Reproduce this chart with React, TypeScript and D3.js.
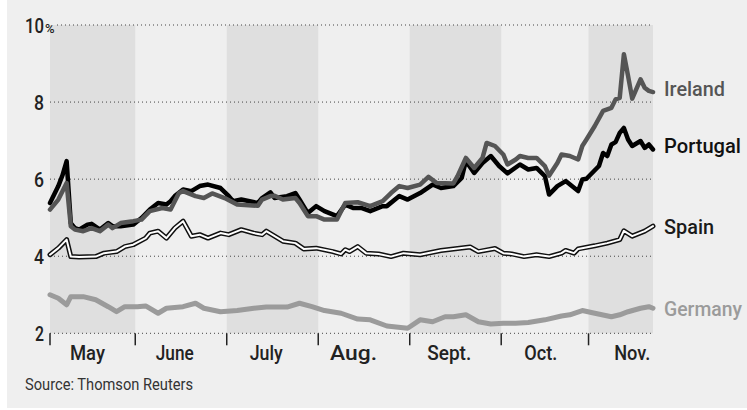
import React from "react";
import * as d3 from "d3";

// ---------- data (10-year government bond yields, %, 2010) ----------
const YEAR = 2010;
const monthNames = ["May", "June", "July", "Aug.", "Sept.", "Oct.", "Nov."];
const monthStarts = ["5/3", "6/1", "7/1", "8/2", "9/1", "10/1", "11/1"];
const monthLabelDates = ["5/14", "6/14", "7/14", "8/12", "9/14", "10/14", "11/15"];
const shadedMonths = [true, false, true, false, true, false, true];
const lastDate = "11/22";
const yTicks = [2, 4, 6, 8, 10];

const ireland: [string, number][] = [
  ["5/3", 5.21], ["5/5", 5.47], ["5/7", 5.9], ["5/10", 4.78], ["5/11", 4.69], ["5/13", 4.65],
  ["5/17", 4.73], ["5/19", 4.65], ["5/21", 4.82], ["5/24", 4.73], ["5/26", 4.86], ["5/31", 4.91],
  ["6/2", 4.95], ["6/4", 5.17], ["6/9", 5.25], ["6/11", 5.21], ["6/15", 5.64], ["6/16", 5.69],
  ["6/21", 5.56], ["6/23", 5.51], ["6/25", 5.63], ["6/30", 5.51], ["7/5", 5.34], ["7/12", 5.31],
  ["7/13", 5.47], ["7/15", 5.56], ["7/16", 5.57], ["7/20", 5.47], ["7/23", 5.51], ["7/26", 5.38],
  ["7/28", 5.04], ["7/30", 5.04], ["8/3", 4.95], ["8/6", 4.95], ["8/10", 5.38], ["8/13", 5.4],
  ["8/18", 5.3], ["8/23", 5.43], ["8/25", 5.64], ["8/27", 5.82], ["8/31", 5.77], ["9/3", 5.86],
  ["9/7", 6.06], ["9/9", 5.9], ["9/15", 5.89], ["9/16", 6.08], ["9/20", 6.55], ["9/22", 6.29],
  ["9/24", 6.55], ["9/27", 6.94], ["9/29", 6.86], ["10/1", 6.64], ["10/4", 6.38], ["10/6", 6.51],
  ["10/7", 6.6], ["10/11", 6.55], ["10/13", 6.55], ["10/15", 6.34], ["10/18", 6.09], ["10/20", 6.42],
  ["10/21", 6.64], ["10/25", 6.6], ["10/27", 6.51], ["10/28", 6.86], ["10/29", 7.03], ["11/2", 7.38],
  ["11/4", 7.77], ["11/8", 7.85], ["11/9", 8.07], ["11/10", 8.11], ["11/11", 9.24], ["11/12", 8.68],
  ["11/15", 8.09], ["11/17", 8.59], ["11/18", 8.37], ["11/19", 8.29], ["11/22", 8.26],
];

const portugal: [string, number][] = [
  ["5/3", 5.38], ["5/5", 5.82], ["5/6", 6.1], ["5/7", 6.47], ["5/10", 4.86], ["5/11", 4.73],
  ["5/12", 4.69], ["5/14", 4.82], ["5/17", 4.84], ["5/19", 4.69], ["5/21", 4.86], ["5/24", 4.78],
  ["5/26", 4.78], ["5/31", 4.82], ["6/2", 4.99], ["6/4", 5.21], ["6/8", 5.38], ["6/10", 5.34],
  ["6/11", 5.43], ["6/14", 5.56], ["6/16", 5.73], ["6/18", 5.69], ["6/22", 5.82], ["6/24", 5.86],
  ["6/29", 5.77], ["7/1", 5.56], ["7/2", 5.43], ["7/6", 5.47], ["7/12", 5.38], ["7/13", 5.51],
  ["7/15", 5.66], ["7/16", 5.51], ["7/21", 5.56], ["7/23", 5.64], ["7/26", 5.47], ["7/28", 5.12],
  ["7/30", 5.3], ["8/3", 5.17], ["8/6", 5.04], ["8/10", 5.34], ["8/12", 5.25], ["8/16", 5.25],
  ["8/18", 5.17], ["8/23", 5.3], ["8/24", 5.3], ["8/27", 5.56], ["8/31", 5.47], ["9/3", 5.64],
  ["9/8", 5.86], ["9/10", 5.77], ["9/15", 5.82], ["9/17", 6.03], ["9/20", 6.47], ["9/22", 6.16],
  ["9/24", 6.42], ["9/28", 6.6], ["9/30", 6.34], ["10/4", 6.15], ["10/7", 6.38], ["10/11", 6.25],
  ["10/13", 6.29], ["10/15", 6.08], ["10/18", 5.6], ["10/20", 5.82], ["10/22", 5.95], ["10/27", 5.69],
  ["10/28", 5.99], ["10/29", 6.01], ["11/3", 6.34], ["11/4", 6.68], ["11/5", 6.6], ["11/8", 6.9],
  ["11/9", 6.96], ["11/10", 7.2], ["11/11", 7.33], ["11/12", 7.03], ["11/15", 6.86], ["11/17", 6.99],
  ["11/18", 6.81], ["11/19", 6.9], ["11/22", 6.77],
];

const spain: [string, number][] = [
  ["5/3", 4.04], ["5/5", 4.21], ["5/7", 4.43], ["5/10", 3.99], ["5/12", 3.98], ["5/18", 3.99],
  ["5/20", 4.08], ["5/25", 4.12], ["5/27", 4.25], ["5/31", 4.3], ["6/3", 4.47], ["6/4", 4.6],
  ["6/8", 4.65], ["6/10", 4.47], ["6/14", 4.73], ["6/16", 4.91], ["6/18", 4.52], ["6/22", 4.56],
  ["6/24", 4.47], ["6/29", 4.6], ["7/1", 4.56], ["7/6", 4.69], ["7/9", 4.6], ["7/13", 4.56],
  ["7/14", 4.65], ["7/20", 4.39], ["7/23", 4.34], ["7/27", 4.19], ["7/30", 4.21], ["8/5", 4.12],
  ["8/9", 4.06], ["8/10", 4.17], ["8/11", 4.12], ["8/13", 4.25], ["8/17", 4.08], ["8/20", 4.06],
  ["8/25", 3.99], ["8/30", 4.08], ["9/3", 4.04], ["9/10", 4.15], ["9/15", 4.19], ["9/21", 4.24],
  ["9/23", 4.12], ["9/29", 4.2], ["10/1", 4.08], ["10/5", 4.06], ["10/8", 3.99], ["10/13", 4.04],
  ["10/18", 3.99], ["10/21", 4.08], ["10/22", 4.15], ["10/26", 4.08], ["10/27", 4.19], ["11/2", 4.27],
  ["11/5", 4.34], ["11/10", 4.43], ["11/11", 4.66], ["11/15", 4.52], ["11/18", 4.65], ["11/22", 4.78],
];

const germany: [string, number][] = [
  ["5/3", 3.0], ["5/5", 2.91], ["5/7", 2.74], ["5/10", 2.95], ["5/13", 2.95], ["5/18", 2.87],
  ["5/21", 2.69], ["5/25", 2.56], ["5/27", 2.69], ["6/1", 2.69], ["6/3", 2.71], ["6/8", 2.52],
  ["6/10", 2.65], ["6/16", 2.69], ["6/21", 2.78], ["6/23", 2.65], ["6/29", 2.56], ["7/5", 2.59],
  ["7/9", 2.65], ["7/14", 2.68], ["7/21", 2.68], ["7/26", 2.78], ["7/29", 2.69], ["8/3", 2.59],
  ["8/9", 2.52], ["8/13", 2.37], ["8/18", 2.35], ["8/24", 2.19], ["8/31", 2.13], ["9/3", 2.35],
  ["9/8", 2.3], ["9/13", 2.43], ["9/15", 2.43], ["9/20", 2.48], ["9/23", 2.3], ["9/28", 2.24],
  ["10/1", 2.26], ["10/6", 2.26], ["10/11", 2.28], ["10/15", 2.35], ["10/21", 2.45], ["10/25", 2.48],
  ["10/28", 2.59], ["11/2", 2.52], ["11/8", 2.43], ["11/10", 2.48], ["11/12", 2.56], ["11/17", 2.65],
  ["11/19", 2.69], ["11/22", 2.65],
];

// ---------- helpers ----------
const parse = (s: string) => {
  const [m, d] = s.split("/").map(Number);
  return new Date(YEAR, m - 1, d);
};
const origin = parse(monthStarts[0]);
const bday = (s: string) => {
  const date = parse(s);
  let n = 0;
  for (const t of d3.timeDay.range(origin, date)) {
    const w = t.getDay();
    if (w !== 0 && w !== 6) n++;
  }
  return n;
};

const FONT = "Roboto, 'Noto Sans', sans-serif";

// rendered widths of the condensed labels (styling, not data)
const textWidths: Record<string, number> = {
  Ireland: 61, Portugal: 77, Spain: 50, Germany: 78,
  May: 35, June: 38, July: 33, "Aug.": 47, "Sept.": 44, "Oct.": 33, "Nov.": 36,
  "Source: Thomson Reuters": 168, "8": 10, "6": 10, "4": 10, "2": 9,
};

const W = 747;
const H = 410;
const left = 50;
const right = 653;
const top = 25;
const bottom = 333.3;

function NText(props: {
  x: number; y: number; text: string; size: number; fill: string;
  anchor?: "start" | "middle" | "end"; weight?: number;
}) {
  const w = textWidths[props.text];
  return (
    <text
      x={props.x}
      y={props.y}
      fontSize={props.size}
      fill={props.fill}
      textAnchor={props.anchor || "start"}
      fontWeight={props.weight || 500}
      textLength={w}
      lengthAdjust="spacingAndGlyphs"
    >
      {props.text}
    </text>
  );
}

export default function App() {
  const x = d3.scaleLinear().domain([0, bday(lastDate)]).range([left, right]);
  const y = d3.scaleLinear().domain([2, 10]).range([bottom, top]);

  const bounds = monthStarts.map((s) => Math.max(x(0), x(bday(s) - 0.5)));
  const bandEnds = bounds.map((b, i) => (i < bounds.length - 1 ? bounds[i + 1] : x(bday(lastDate))));

  const line = d3
    .line<[string, number]>()
    .x((d) => x(bday(d[0])))
    .y((d) => y(d[1]));

  const series = [
    { name: "Germany", data: germany, color: "#9b9b9b", width: 5, label: "#9b9b9b", nudge: 8 },
    { name: "Spain", data: spain, color: "#111", width: 5, inner: "#fff", label: "#1a1a1a", nudge: 8 },
    { name: "Portugal", data: portugal, color: "#000", width: 4.5, label: "#111", nudge: 3.5 },
    { name: "Ireland", data: ireland, color: "#555", width: 4.5, label: "#555", nudge: 4 },
  ];

  const topTick = yTicks[yTicks.length - 1];

  return (
    <svg
      width={W}
      height={H}
      style={{ position: "absolute", left: 0, top: 0, display: "block" }}
      fontFamily={FONT}
    >
      <rect x={0} y={0} width={W} height={H} fill="#fff" />
      <rect x={7} y={0} width={W - 7} height={408} fill="#efefef" />

      {/* shaded months */}
      {bounds.map((b, i) =>
        shadedMonths[i] ? (
          <rect key={"band" + i} x={b} y={top} width={bandEnds[i] - b} height={bottom - top} fill="#dfdfdf" />
        ) : null
      )}

      {/* dotted gridlines */}
      {yTicks.map((t) => (
        <line
          key={"g" + t}
          x1={t === topTick ? 57 : left}
          x2={right}
          y1={y(t)}
          y2={y(t)}
          stroke="#444"
          strokeWidth={1}
          strokeDasharray="1 3"
        />
      ))}

      {/* y labels */}
      {yTicks.map((t) =>
        t === topTick ? (
          <text key={"yl" + t} x={25} y={y(t) + 7.5} fontSize={20} fill="#222" fontWeight={500}>
            <tspan textLength={19} lengthAdjust="spacingAndGlyphs">{String(t)}</tspan>
            <tspan fontSize={13} dx={1}>%</tspan>
          </text>
        ) : (
          <NText key={"yl" + t} x={44} y={y(t) + 7.5} text={String(t)} anchor="end" size={20} fill="#222" />
        )
      )}

      {/* month ticks */}
      {bounds.map((b, i) => (
        <line key={"t" + i} x1={b} x2={b} y1={bottom} y2={bottom + 12} stroke="#222" strokeWidth={1.5} />
      ))}
      {monthNames.map((m, i) => (
        <NText key={"m" + m} x={x(bday(monthLabelDates[i]))} y={360} text={m} anchor="middle" size={20} fill="#222" />
      ))}

      {/* lines */}
      {series.map((s) => (
        <g key={s.name}>
          <path
            d={line(s.data) || ""}
            fill="none"
            stroke={s.color}
            strokeWidth={s.width}
            strokeLinejoin="round"
            strokeLinecap="round"
          />
          {s.inner ? (
            <path
              d={line(s.data) || ""}
              fill="none"
              stroke={s.inner}
              strokeWidth={2}
              strokeLinejoin="round"
              strokeLinecap="round"
            />
          ) : null}
          <NText
            x={664}
            y={y(s.data[s.data.length - 1][1]) + s.nudge}
            text={s.name}
            size={21}
            fill={s.label}
          />
        </g>
      ))}

      <NText x={25} y={390} text="Source: Thomson Reuters" size={16} fill="#333" weight={400} />
    </svg>
  );
}
